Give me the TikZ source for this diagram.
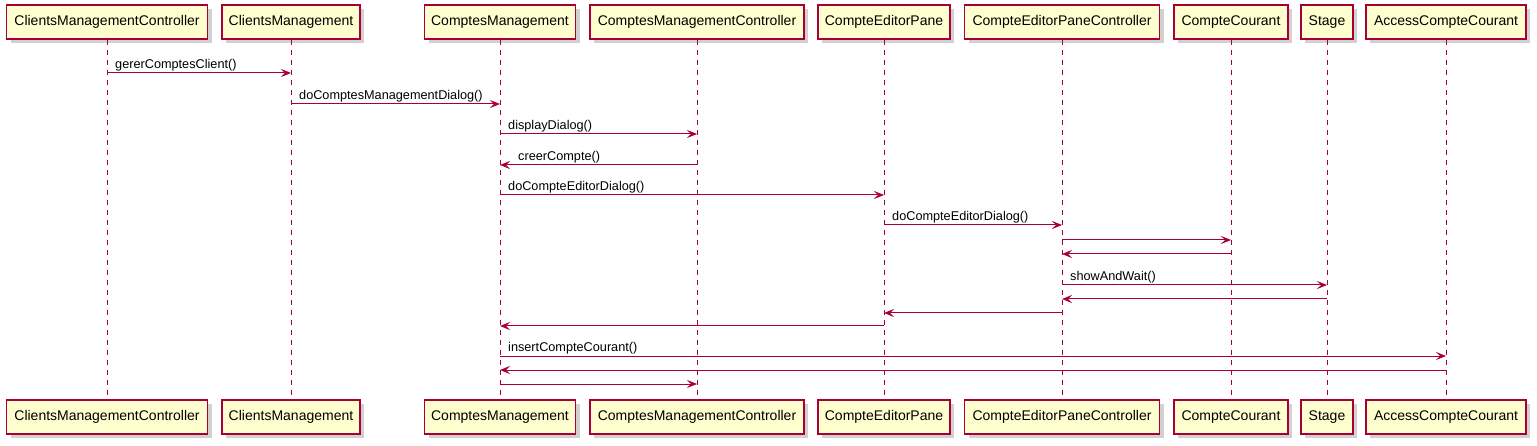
\documentclass[tikz,border=0pt]{standalone}
\usepackage{fontspec}
\setmainfont{Liberation Sans}
\usetikzlibrary{arrows.meta,shadows}
\definecolor{umlred}{HTML}{A80036}
\definecolor{umlfill}{HTML}{FEFECE}
\tikzset{
  part/.style={draw=umlred, line width=1.3pt, fill=umlfill, minimum height=34pt, inner sep=0pt,
    font=\fontsize{14pt}{16pt}\selectfont, text=black,
    drop shadow={shadow xshift=4pt, shadow yshift=-4pt, fill=black!30, opacity=0.6}},
  life/.style={draw=umlred, line width=1pt, dash pattern=on 5pt off 5pt},
  msg/.style={draw=umlred, line width=1pt, -{Stealth[length=10pt,width=8pt,inset=4pt]}},
  mlabel/.style={font=\fontsize{12.7pt}{15pt}\selectfont, inner sep=0pt, text=black}
}
\newcommand\seqmsgR[4]{% from, to, y, label (left to right)
  \draw[msg] (#1.south |- 0,#3) -- (#2.south |- 0,#3);
  \node[mlabel, anchor=base west] at ([xshift=8pt]#1.south |- 0,#3-4) {#4};}
\newcommand\seqmsgL[4]{% from, to, y, label (right to left)
  \draw[msg] (#1.south |- 0,#3) -- (#2.south |- 0,#3);
  \node[mlabel, anchor=base west] at ([xshift=18pt]#2.south |- 0,#3-4) {#4};}
\newcommand\seqret[3]{% from, to, y (no label)
  \draw[msg] (#1.south |- 0,#3) -- (#2.south |- 0,#3);}
\begin{document}
\begin{tikzpicture}[x=1pt,y=-1pt]
\useasboundingbox (0,0) rectangle (1537,446);
% top participants
\node[part, minimum width=201pt] (t1) at (107,22) {ClientsManagementController};
\node[part, minimum width=138pt] (t2) at (291,22) {ClientsManagement};
\node[part, minimum width=151pt] (t3) at (500,22) {ComptesManagement};
\node[part, minimum width=214pt] (t4) at (697,22) {ComptesManagementController};
\node[part, minimum width=132pt] (t5) at (884,22) {CompteEditorPane};
\node[part, minimum width=195pt] (t6) at (1062,22) {CompteEditorPaneController};
\node[part, minimum width=114pt] (t7) at (1231,22) {CompteCourant};
\node[part, minimum width=52pt] (t8) at (1327,22) {Stage};
\node[part, minimum width=160pt] (t9) at (1446,22) {AccessCompteCourant};
% bottom participants
\node[part, minimum width=201pt] (b1) at (107,417) {ClientsManagementController};
\node[part, minimum width=138pt] (b2) at (291,417) {ClientsManagement};
\node[part, minimum width=151pt] (b3) at (500,417) {ComptesManagement};
\node[part, minimum width=214pt] (b4) at (697,417) {ComptesManagementController};
\node[part, minimum width=132pt] (b5) at (884,417) {CompteEditorPane};
\node[part, minimum width=195pt] (b6) at (1062,417) {CompteEditorPaneController};
\node[part, minimum width=114pt] (b7) at (1231,417) {CompteCourant};
\node[part, minimum width=52pt] (b8) at (1327,417) {Stage};
\node[part, minimum width=160pt] (b9) at (1446,417) {AccessCompteCourant};
% lifelines
\foreach \i in {1,...,9} { \draw[life] (t\i.south) -- (b\i.north); }
% messages
\seqmsgR{t1}{t2}{73}{gererComptesClient()}
\seqmsgR{t2}{t3}{104}{doComptesManagementDialog()}
\seqmsgR{t3}{t4}{134}{displayDialog()}
\seqmsgL{t4}{t3}{165}{creerCompte()}
\seqmsgR{t3}{t5}{195}{doCompteEditorDialog()}
\seqmsgR{t5}{t6}{225}{doCompteEditorDialog()}
\seqret{t6}{t7}{240}
\seqret{t7}{t6}{254}
\seqmsgR{t6}{t8}{285}{showAndWait()}
\seqret{t8}{t6}{299}
\seqret{t6}{t5}{313}
\seqret{t5}{t3}{326}
\seqmsgR{t3}{t9}{356}{insertCompteCourant()}
\seqret{t9}{t3}{370}
\seqret{t3}{t4}{384}
\end{tikzpicture}
\end{document}
